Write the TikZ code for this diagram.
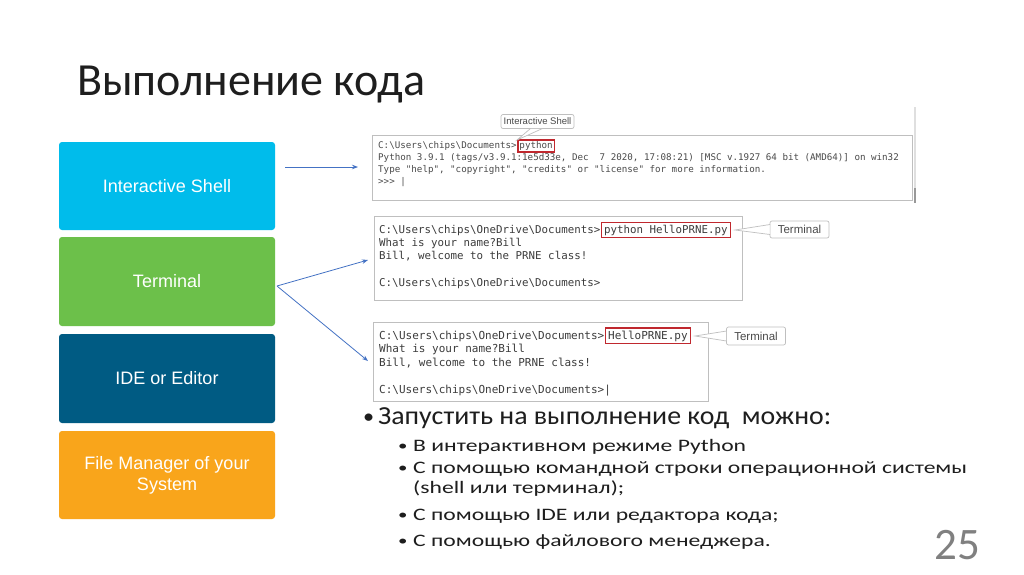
\documentclass[tikz,border=0pt]{standalone}
\usepackage{fontspec}
\setmainfont{Carlito}
\newfontfamily\arialf{Liberation Sans}
\newfontfamily\monof{DejaVu Sans Mono}
\newfontfamily\subf[FakeStretch=1.35]{Carlito}
\newfontfamily\mainbf[FakeStretch=1.07]{Carlito}
\usetikzlibrary{arrows.meta}
\definecolor{cshell}{HTML}{00BCEB}
\definecolor{cterm}{HTML}{6CC04A}
\definecolor{cide}{HTML}{005B83}
\definecolor{cfile}{HTML}{F9A51B}
\definecolor{arrowblue}{HTML}{4472C4}
\definecolor{codegray}{HTML}{4A4A4A}
\definecolor{codedark}{HTML}{3C3C3C}
\definecolor{framegray}{HTML}{BFBFBF}
\definecolor{hlred}{HTML}{C0282E}
\definecolor{titlegray}{HTML}{1E1E1E}
\def\bs{\textbackslash}
\tikzset{
  catbox/.style={rounded corners=3pt, minimum width=216pt, minimum height=88pt, text=white, font=\arialf\fontsize{18}{21}\selectfont, align=center, inner sep=0pt},
  shot/.style={draw=framegray, line width=0.8pt, fill=white},
  codeA/.style={anchor=base west, inner sep=0pt, text=codegray, font=\monof\fontsize{9.2}{11}\selectfont},
  codeB/.style={anchor=base west, inner sep=0pt, text=codedark, font=\monof\fontsize{10.8}{13}\selectfont},
  codeC/.style={anchor=base west, inner sep=0pt, text=codedark, font=\monof\fontsize{11}{13}\selectfont},
  hlA/.style={codeA, draw=hlred, line width=1.2pt, inner sep=1.5pt},
  hlB/.style={codeB, draw=hlred, line width=1.3pt, inner sep=2.5pt},
  hlC/.style={codeC, draw=hlred, line width=1.3pt, inner sep=2.5pt},
  callout/.style={draw=framegray, fill=white, rounded corners=2pt, line width=0.7pt, text=codegray, font=\arialf\fontsize{9.5}{11}\selectfont, inner sep=0pt},
  conn/.style={draw=arrowblue, line width=0.8pt, -{Stealth[length=6pt,width=4.5pt]}},
  bodytext/.style={anchor=base west, inner sep=0pt, text=titlegray},
  subitem/.style={bodytext, font=\subf\fontsize{17.5}{21}\selectfont},
}
\newcommand{\subbul}{\makebox[15pt][l]{\raisebox{1pt}{\scalebox{0.8}{•}}}}
\begin{document}
\begin{tikzpicture}[x=1pt,y=-1pt]
\useasboundingbox (0,0) rectangle (1024,574);
\fill[white] (0,0) rectangle (1024,574);

% title
\node[bodytext, font=\fontsize{46}{54}\selectfont] (title) at (77,95) {Выполнение кода};

% category boxes
\node[catbox, fill=cshell] (shell) at (167,186) {Interactive Shell};
\node[catbox, fill=cterm, minimum height=89pt] (term) at (167,281.5) {Terminal};
\node[catbox, fill=cide, minimum height=89pt] (ide) at (167,378.5) {IDE or Editor};
\node[catbox, fill=cfile] (fm) at (167,475) {File Manager of your\\System};

% scrollbar
\draw[framegray!50, line width=1.5pt] (915,107) -- (915,203);
\draw[gray!80, line width=1.5pt] (915,188) -- (915,203);

% screenshot 1
\node[shot, anchor=north west, minimum width=540pt, minimum height=65pt, inner sep=0pt] (s1) at (372,135) {};
\node[codeA] (a1) at (378,148.5) {C:\bs Users\bs chips\bs Documents>};
\node[hlA, anchor=base west] (a1h) at ([xshift=0.5pt]a1.base east) {python};
\node[codeA] (a2) at (378,160.5) {Python 3.9.1 (tags/v3.9.1:1e5d33e, Dec\ \ 7 2020, 17:08:21) [MSC v.1927 64 bit (AMD64)] on win32};
\node[codeA] (a3) at (378,172.5) {Type "help", "copyright", "credits" or "license" for more information.};
\node[codeA] (a4) at (378,184.5) {>>> |};

% screenshot 2
\node[shot, anchor=north west, minimum width=368pt, minimum height=84pt, inner sep=0pt] (s2) at (374,216) {};
\node[codeB] (b1) at (379,233) {C:\bs Users\bs chips\bs OneDrive\bs Documents>};
\node[hlB, anchor=base west] (b1h) at ([xshift=0.5pt]b1.base east) {python HelloPRNE.py};
\node[codeB] (b2) at (379,246) {What is your name?Bill};
\node[codeB] (b3) at (379,259) {Bill, welcome to the PRNE class!};
\node[codeB] (b4) at (379,286) {C:\bs Users\bs chips\bs OneDrive\bs Documents>};

% screenshot 3
\node[shot, anchor=north west, minimum width=335pt, minimum height=79pt, inner sep=0pt] (s3) at (373,322) {};
\node[codeC] (c1) at (379,339) {C:\bs Users\bs chips\bs OneDrive\bs Documents>};
\node[hlC, anchor=base west] (c1h) at ([xshift=0.5pt]c1.base east) {HelloPRNE.py};
\node[codeC] (c2) at (379,352) {What is your name?Bill};
\node[codeC] (c3) at (379,366) {Bill, welcome to the PRNE class!};
\node[codeC] (c4) at (379,393) {C:\bs Users\bs chips\bs OneDrive\bs Documents>|};

% callouts
\node[callout, minimum width=73pt, minimum height=14pt] (co1) at (537.5,121.5) {Interactive Shell};
\fill[white] ([xshift=-7pt]co1.south) -- (517,140) -- ([xshift=5pt]co1.south) -- cycle;
\draw[framegray, line width=0.7pt] ([xshift=-7pt,yshift=0.35pt]co1.south) -- (517,140) -- ([xshift=5pt,yshift=0.35pt]co1.south);

\node[callout, font=\arialf\fontsize{11.5}{13}\selectfont, minimum width=59pt, minimum height=17pt] (co2) at (799.5,229.5) {Terminal};
\fill[white] ([yshift=-5pt]co2.west) -- (735,230) -- ([yshift=5pt]co2.west) -- cycle;
\draw[framegray, line width=0.7pt] ([yshift=-5pt,xshift=0.35pt]co2.west) -- (735,230) -- ([yshift=5pt,xshift=0.35pt]co2.west);

\node[callout, font=\arialf\fontsize{11.5}{13}\selectfont, minimum width=59pt, minimum height=18pt] (co3) at (756,336) {Terminal};
\fill[white] ([yshift=-5pt]co3.west) -- (695,336) -- ([yshift=5pt]co3.west) -- cycle;
\draw[framegray, line width=0.7pt] ([yshift=-5pt,xshift=0.35pt]co3.west) -- (695,336) -- ([yshift=5pt,xshift=0.35pt]co3.west);

% connectors
\coordinate (shellout) at (285,167);
\coordinate (shellin) at (358,167);
\coordinate (termout) at (277,286);
\coordinate (s2in) at (368,260);
\coordinate (s3in) at (368,361);
\draw[conn] (shellout) -- (shellin);
\draw[conn] (termout) -- (s2in);
\draw[conn] (termout) -- (s3in);

% bullets
\node[bodytext, font=\mainbf\fontsize{26}{30}\selectfont] (bl0) at (363,424) {\makebox[15pt][l]{\raisebox{1pt}{\scalebox{0.8}{•}}}Запустить на выполнение код\ \ можно:};
\node[subitem] (bl1) at (398,451) {\subbul В интерактивном режиме Python};
\node[subitem] (bl2) at (398,473) {\subbul С помощью командной строки операционной системы};
\node[subitem] (bl2b) at (413,493) {(shell или терминал);};
\node[subitem] (bl3) at (398,520) {\subbul С помощью IDE или редактора кода;};
\node[subitem] (bl4) at (398,546) {\subbul С помощью файлового менеджера.};

% page number
\node[bodytext, text=gray, font=\fontsize{45}{50}\selectfont] (pg) at (934,559) {25};
\end{tikzpicture}
\end{document}
